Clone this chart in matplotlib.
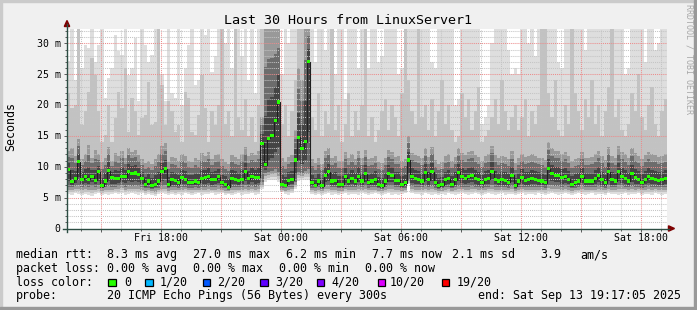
import numpy as np
import matplotlib
matplotlib.use("Agg")
import matplotlib.pyplot as plt
from matplotlib.patches import Rectangle, Polygon
from matplotlib.lines import Line2D

# ------------------------------------------------------------------ data
title = "Last 30 Hours from LinuxServer1"
start_hour = 13 + 17 / 60 + 5 / 3600          # Fri 13:17:05
span_hours = 30
step_hours = 1 / 6                             # 10 minute columns

rtt_median = [
    9.5, 7.6, 8.1, 10.8, 8.0, 8.4, 8.0, 8.5, 7.8, 9.2, 6.9, 7.7, 9.4, 8.2, 8.1,
    8.1, 8.5, 8.4, 9.2, 8.9, 9.0, 8.8, 8.1, 7.2, 7.7, 7.0, 7.2, 7.7, 9.2, 9.7,
    7.1, 7.9, 7.8, 7.4, 8.2, 8.0, 7.5, 7.4, 7.7, 7.5, 8.1, 8.2, 8.4, 7.9, 8.0,
    8.4, 7.4, 7.2, 6.7, 8.1, 8.0, 7.8, 8.0, 9.2, 8.1, 8.5, 8.2, 8.3, 13.8, 10.3,
    14.6, 15.0, 17.5, 20.5, 7.2, 7.0, 7.8, 7.9, 11.1, 14.8, 13.0, 14.1, 27.0, 7.4, 7.0,
    7.7, 6.9, 8.6, 9.2, 7.7, 7.8, 7.2, 7.2, 8.4, 7.7, 8.1, 7.7, 8.5, 7.7, 8.9,
    7.4, 7.7, 7.9, 7.1, 6.9, 7.7, 8.9, 8.6, 7.8, 7.8, 7.2, 7.4, 11.1, 8.4, 8.1,
    8.0, 7.7, 9.1, 7.9, 9.2, 7.5, 6.9, 7.1, 7.9, 8.1, 7.2, 7.9, 9.1, 8.4, 8.1,
    8.4, 8.6, 8.1, 7.9, 7.4, 8.0, 8.1, 9.3, 8.0, 7.7, 7.9, 7.8, 7.5, 8.6, 6.9,
    7.7, 8.2, 7.8, 7.9, 8.1, 8.0, 7.8, 7.7, 7.4, 9.7, 8.9, 8.6, 8.6, 8.2, 8.4,
    8.0, 7.2, 7.5, 7.7, 8.4, 7.7, 7.7, 7.7, 8.1, 8.6, 7.9, 7.4, 9.2, 7.9, 7.7,
    9.2, 8.4, 8.1, 7.7, 8.9, 8.2, 8.0, 7.5, 8.0, 8.4, 8.1, 8.0, 7.8, 7.9, 8.1,
]
rtt_max = [
    27.1, 33, 24, 33, 26.0, 29.8, 29.2, 33, 27, 29.8, 33, 21.1, 24.4, 26.0, 31.4,
    28.7, 28.1, 33, 24.9, 26, 30.8, 20.6, 33, 29.8, 27, 28.1, 33, 33, 25, 20.6,
    33, 22, 21.1, 33, 20.0, 26, 29.8, 33, 23.3, 24, 33, 31.4, 33, 25.4, 28,
    33, 33, 30, 33, 26, 33, 33, 28, 33, 24, 33, 22, 33, 33, 33,
    33, 33, 33, 33, 25, 33, 30, 33, 33, 33, 33, 33, 33, 33, 27,
    33, 33, 29, 33, 33, 25, 33, 33, 21, 33, 33, 33, 26, 33, 33,
    26, 33, 33, 27, 28, 33, 33, 33, 33, 25, 26, 33, 33, 33, 33,
    33, 33, 33, 33, 27, 26, 33, 33, 33, 33, 33, 20, 21, 33, 33,
    33, 33, 33, 33, 17, 18, 20, 30, 33, 33, 33, 33, 29, 25, 26,
    25, 33, 33, 30, 33, 28, 33, 33, 33, 33, 33, 33, 27, 26, 33,
    33, 33, 33, 33, 33, 29, 33, 33, 33, 33, 33, 33, 33, 33, 33,
    33, 33, 25, 26, 33, 33, 33, 33, 27, 33, 33, 29, 30, 33, 33,
]
rtt_p90 = [
    22, 19.5, 20.0, 33, 16.8, 19.0, 22.2, 27.6, 24.9, 19.0, 14.1, 15.2, 20.0, 14.1, 17.9,
    22.2, 19.5, 26.0, 15.7, 21.1, 19.0, 15.2, 17.9, 18.4, 23.8, 16.8, 17.3, 33, 23.3, 16.8,
    20.6, 19.0, 15.7, 16.8, 14.1, 22.2, 21.1, 15.7, 15.2, 18.4, 24.9, 19.5, 14.1, 19.0, 16.8,
    20, 33, 17, 19, 15, 33, 18, 16, 21, 15, 18, 14, 20, 33, 33,
    33, 33, 33, 33, 17, 20, 15, 19, 24, 33, 33, 33, 33, 18, 16,
    22, 15, 19, 17, 33, 16, 20, 14, 17, 22, 15, 19, 16, 20, 33,
    15, 18, 14, 16, 19, 21, 16, 20, 18, 15, 22, 33, 24, 19, 17,
    33, 18, 20, 16, 21, 15, 19, 24, 17, 20, 16, 14, 15, 22, 18,
    21, 16, 19, 23, 14, 15, 16, 18, 21, 17, 24, 19, 16, 18, 20,
    16, 18, 21, 15, 19, 17, 20, 33, 33, 22, 18, 24, 16, 15, 20,
    17, 33, 22, 19, 16, 21, 18, 24, 17, 20, 15, 19, 23, 33, 18,
    21, 16, 15, 17, 22, 19, 25, 18, 16, 20, 23, 17, 15, 19, 21,
]
rtt_p75 = [
    12.5, 13.0, 11.8, 14.5, 11.2, 12.0, 13.5, 11.5, 12.8, 12.0, 10.8, 11.5, 13.2, 11.0, 12.2,
    11.8, 12.6, 11.4, 13.0, 12.4, 12.8, 11.9, 11.2, 10.6, 11.0, 10.5, 11.3, 12.0, 13.4, 13.8,
    10.8, 11.6, 11.4, 10.9, 12.0, 11.7, 11.0, 10.8, 11.4, 11.1, 12.2, 11.8, 12.4, 11.3, 11.9,
    12.0, 11.2, 10.8, 10.4, 11.9, 11.6, 11.3, 12.1, 13.2, 11.8, 12.3, 11.9, 12.5, 18.0, 33,
    33, 33, 33, 33, 11.5, 10.8, 11.6, 11.9, 16.0, 26.0, 24.0, 33, 33, 11.2, 10.6,
    11.4, 10.5, 12.6, 13.0, 11.4, 11.8, 10.9, 11.0, 12.4, 11.5, 12.0, 11.3, 12.6, 11.4, 12.8,
    11.2, 11.5, 11.8, 10.8, 10.6, 11.5, 12.8, 12.4, 11.6, 11.7, 10.9, 11.2, 15.0, 12.2, 11.9,
    11.8, 11.4, 13.0, 11.6, 13.2, 11.1, 10.5, 10.8, 11.7, 12.0, 10.9, 11.6, 13.0, 12.3, 11.9,
    12.4, 12.6, 11.9, 11.6, 11.0, 11.8, 12.0, 13.4, 11.9, 11.4, 11.7, 11.6, 11.2, 12.5, 10.6,
    11.4, 12.1, 11.6, 11.7, 12.0, 11.8, 11.5, 11.4, 11.1, 14.0, 13.0, 12.6, 12.6, 12.1, 12.4,
    11.8, 10.9, 11.2, 11.4, 12.4, 11.5, 11.4, 11.6, 12.0, 12.6, 11.7, 11.1, 13.2, 11.7, 11.5,
    13.3, 12.4, 12.0, 11.5, 13.0, 12.2, 11.8, 11.2, 11.9, 12.4, 12.0, 11.9, 11.6, 11.7, 12.0,
]
rtt_p25 = [
    6.8, 6.7, 6.9, 7.0, 6.8, 6.9, 6.7, 6.9, 6.8, 7.0, 6.5, 6.7, 6.9, 6.8, 6.8,
    6.9, 7.0, 6.8, 7.0, 6.9, 7.0, 6.9, 6.7, 6.5, 6.6, 6.4, 6.5, 6.6, 6.9, 7.0,
    6.5, 6.7, 6.7, 6.6, 6.8, 6.8, 6.6, 6.6, 6.7, 6.6, 6.8, 6.8, 6.9, 6.7, 6.8,
    6.9, 6.6, 6.5, 6.3, 6.8, 6.8, 6.7, 6.8, 7.0, 6.8, 6.9, 6.8, 6.9, 7.6, 9.0,
    9.2, 9.4, 9.6, 9.2, 6.6, 6.5, 6.7, 6.8, 7.6, 9.2, 9.0, 9.4, 9.6, 6.6, 6.5,
    6.7, 6.4, 6.9, 7.0, 6.7, 6.7, 6.5, 6.5, 6.8, 6.7, 6.8, 6.7, 6.9, 6.7, 6.9,
    6.6, 6.7, 6.7, 6.5, 6.4, 6.7, 6.9, 6.9, 6.7, 6.7, 6.5, 6.6, 7.9, 6.9, 6.8,
    6.8, 6.7, 6.9, 6.7, 6.9, 6.6, 6.4, 6.5, 6.7, 6.8, 6.5, 6.7, 6.9, 6.8, 6.8,
    6.8, 6.9, 6.8, 6.7, 6.6, 6.8, 6.8, 7.0, 6.8, 6.7, 6.7, 6.7, 6.6, 6.9, 6.4,
    6.7, 6.8, 6.7, 6.7, 6.8, 6.8, 6.7, 6.7, 6.6, 7.1, 7.0, 6.9, 6.9, 6.8, 6.9,
    6.8, 6.5, 6.6, 6.7, 6.9, 6.7, 6.7, 6.7, 6.8, 6.9, 6.7, 6.6, 7.0, 6.7, 6.7,
    7.0, 6.9, 6.8, 6.7, 6.9, 6.8, 6.8, 6.6, 6.8, 6.9, 6.8, 6.8, 6.7, 6.7, 6.8,
]
rtt_min = [
    5.6, 5.5, 5.7, 5.6, 5.4, 5.6, 5.5, 5.3, 5.6, 5.7, 5.5, 5.6, 5.4, 5.6, 5.7,
    5.6, 5.8, 5.5, 5.6, 5.7, 5.6, 5.5, 5.7, 5.4, 5.6, 5.5, 5.2, 5.6, 5.7, 5.6,
    5.5, 5.6, 5.4, 5.6, 5.5, 5.7, 5.6, 5.5, 5.6, 5.7, 5.5, 5.6, 5.6, 5.7, 5.5,
    5.6, 5.7, 5.5, 5.6, 5.4, 5.6, 5.7, 5.5, 5.6, 5.6, 5.7, 5.5, 5.6, 6.4, 7.6,
    7.8, 7.8, 7.9, 7.6, 5.9, 5.6, 5.5, 5.7, 6.4, 7.7, 7.8, 7.9, 7.8, 5.6, 5.5,
    5.6, 5.4, 5.6, 5.7, 5.5, 5.6, 5.4, 5.6, 5.7, 5.5, 5.6, 5.6, 5.5, 5.7, 5.6,
    5.5, 5.6, 5.7, 5.6, 5.5, 5.6, 5.7, 5.5, 5.6, 5.5, 5.6, 5.7, 7.2, 5.8, 5.6,
    5.6, 5.5, 5.7, 5.6, 5.5, 5.6, 5.4, 5.6, 5.5, 5.7, 5.6, 5.5, 5.6, 5.7, 5.6,
    5.5, 5.6, 5.7, 5.6, 5.5, 5.6, 5.7, 5.6, 5.5, 5.6, 5.7, 5.5, 5.6, 5.6, 5.5,
    5.6, 5.7, 5.5, 5.6, 5.6, 5.5, 5.7, 5.6, 5.5, 5.6, 5.7, 5.6, 5.5, 5.6, 5.7,
    5.6, 5.5, 5.6, 5.7, 5.6, 5.5, 5.6, 5.7, 5.5, 5.6, 5.6, 5.5, 5.7, 5.6, 5.6,
    5.5, 5.6, 5.7, 5.5, 5.6, 5.6, 5.7, 5.5, 5.6, 5.6, 5.5, 5.7, 5.6, 5.5, 5.6,
]

x_tick_hours = [18, 24, 30, 36, 42]
x_tick_labels = ["Fri 18:00", "Sat 00:00", "Sat 06:00", "Sat 12:00", "Sat 18:00"]
y_tick_values = [0, 5, 10, 15, 20, 25, 30]
y_tick_labels = ["0", "5 m", "10 m", "15 m", "20 m", "25 m", "30 m"]
y_label = "Seconds"

stats_rtt = [("median rtt:", 16), ("8.3 ms avg", 107), ("27.0 ms max", 193),
             ("6.2 ms min", 286), ("7.7 ms now", 372), ("2.1 ms sd", 452),
             ("3.9", 540), ("am/s", 580)]
stats_loss = [("packet loss:", 16), ("0.00 % avg", 107), ("0.00 % max", 193),
              ("0.00 % min", 279), ("0.00 % now", 365)]
loss_labels = ["0", "1/20", "2/20", "3/20", "4/20", "10/20", "19/20"]
loss_colors = ["#26ff00", "#00b8ff", "#0059ff", "#5e00ff", "#7e00ff", "#dd00ff", "#ff0000"]
probe_text = "20 ICMP Echo Pings (56 Bytes) every 300s"
end_text = "end: Sat Sep 13 19:17:05 2025"
watermark = "RRDTOOL / TOBI OETIKER"

# ------------------------------------------------------------------ layout
W, H = 697, 310
PL, PR, PT, PB = 67, 667, 28.5, 228.5
PX_PER_MS = 6.17
YMAX = (PB - PT) / PX_PER_MS
MONO = "DejaVu Sans Mono"


def fx(x):
    return x / W


def fy(y):
    return 1 - y / H


fig = plt.figure(figsize=(W / 100, H / 100), dpi=100)
fig.patch.set_facecolor("#f0f0f0")

ax = fig.add_axes([fx(PL), fy(PB), (PR - PL) / W, (PB - PT) / H])
ax.set_facecolor("white")
ax.set_xlim(0, span_hours)
ax.set_ylim(0, YMAX)
for s in ax.spines.values():
    s.set_visible(False)

med = np.array(rtt_median)
vmax = np.array(rtt_max)
p90 = np.array(rtt_p90)
p75 = np.array(rtt_p75)
p25 = np.array(rtt_p25)
vmin = np.array(rtt_min)
xs = np.arange(len(med)) * step_hours

# smoke layers (outer -> inner)
low_a = vmin + 0.3 * (p25 - vmin)
low_b = vmin + 0.6 * (p25 - vmin)
up_c = med + 0.7 * (p75 - med)
low_d = p25 + 0.35 * (med - p25)
up_d = med + 0.35 * (p75 - med)
layers = [
    (vmin, vmax, "#dedede"),
    (low_a, p90, "#c2c2c2"),
    (low_b, p75, "#999999"),
    (p25, up_c, "#6c6c6c"),
    (low_d, up_d, "#444444"),
]
for lo, hi, c in layers:
    ax.bar(xs, hi - lo, bottom=lo, width=step_hours, align="edge",
           color=c, linewidth=0, antialiased=False, zorder=1)

# grid (drawn over the smoke)
dot = (0, (1, 1))
minor_c = "#c4c4c4"
major_c = "#ec8c8c"
for h in range(14, 44):
    xv = h - start_hour
    c = major_c if h % 3 == 0 else minor_c
    ax.axvline(xv, color=c, lw=0.75, ls=dot, zorder=3, snap=True)
for v in range(1, 33):
    c = major_c if v % 5 == 0 else minor_c
    ax.axhline(v, color=c, lw=0.75, ls=dot, zorder=3, snap=True)

# median line + loss-coloured marker band
ax.step(np.r_[xs, span_hours], np.r_[med, med[-1]], where="post",
        color="#202020", lw=0.8, zorder=4)
ax.bar(xs, 0.5, bottom=med - 0.25, width=step_hours, align="edge",
       color=loss_colors[0], linewidth=0, antialiased=False, zorder=5)

# ticks
ax.set_xticks([h - start_hour for h in range(15, 44, 3)])
ax.set_xticks([h - start_hour for h in range(14, 44)], minor=True)
ax.set_yticks(y_tick_values)
ax.set_yticks(range(0, 33), minor=True)
ax.tick_params(which="both", direction="out", color="#606060", width=0.72,
               labelbottom=False, labelleft=False)
ax.tick_params(which="major", length=2.2)
ax.tick_params(which="minor", length=1.4)

# axis lines and arrows
axis_c = "#2c4d43"
fig.add_artist(Line2D([fx(63), fx(669)], [fy(PB), fy(PB)], color=axis_c, lw=1.0))
fig.add_artist(Line2D([fx(PL), fx(PL)], [fy(232), fy(24)], color=axis_c, lw=1.0))
fig.add_artist(Polygon([(fx(64.3), fy(26.5)), (fx(69.7), fy(26.5)), (fx(67), fy(20.5))],
                       closed=True, color="#7f0000", transform=fig.transFigure))
fig.add_artist(Polygon([(fx(668.5), fy(225.8)), (fx(668.5), fy(231.2)), (fx(674.5), fy(PB))],
                       closed=True, color="#7f0000", transform=fig.transFigure))

# tick labels
for v, lab in zip(y_tick_values, y_tick_labels):
    fig.text(fx(60.5), fy(PB - v * PX_PER_MS + 3.3), lab, ha="right", va="baseline",
             fontsize=7.1, family=MONO)
for h, lab in zip(x_tick_hours, x_tick_labels):
    fig.text(fx(PL + (h - start_hour) * (PR - PL) / span_hours), fy(240.7), lab,
             ha="center", va="baseline", fontsize=7.1, family=MONO)

fig.text(fx(11), fy(126.5), y_label, rotation=90, ha="center", va="center",
         fontsize=8.4, family=MONO)
fig.text(fx(348.5), fy(24), title, ha="center", va="baseline", fontsize=9.6, family=MONO)
fig.text(fx(688.5), fy(4), watermark, rotation=-90, ha="center", va="top",
         fontsize=6, family=MONO, color="#a8a8a8")

# legend block
LF = 8.4
for s, x in stats_rtt:
    fig.text(fx(x), fy(258.3), s, ha="left", va="baseline", fontsize=LF, family=MONO)
for s, x in stats_loss:
    fig.text(fx(x), fy(271.9), s, ha="left", va="baseline", fontsize=LF, family=MONO)
fig.text(fx(16), fy(285.8), "loss color:", ha="left", va="baseline", fontsize=LF, family=MONO)
box_x = [108.3, 145.3, 202.7, 260, 316.7, 377.7, 441.7]
lab_x = [124, 160, 217.3, 275.7, 331.7, 390, 456.7]
for bx, lx, lab, c in zip(box_x, lab_x, loss_labels, loss_colors):
    fig.add_artist(Rectangle((fx(bx), fy(286.2)), 7.6 / W, 7.2 / H, facecolor=c,
                             edgecolor="black", lw=0.9, transform=fig.transFigure))
    fig.text(fx(lx), fy(285.8), lab, ha="left", va="baseline", fontsize=LF, family=MONO)
fig.text(fx(16), fy(299.4), "probe:", ha="left", va="baseline", fontsize=LF, family=MONO)
fig.text(fx(107), fy(299.4), probe_text, ha="left", va="baseline", fontsize=LF, family=MONO)
fig.text(fx(478.3), fy(299.4), end_text, ha="left", va="baseline", fontsize=LF, family=MONO)

# frame
fig.add_artist(Rectangle((0, 0), 2 / W, 1, color="#cbcbcb", transform=fig.transFigure))
fig.add_artist(Rectangle((0, 1 - 2 / H), 1, 2 / H, color="#cbcbcb", transform=fig.transFigure))
fig.add_artist(Rectangle((1 - 3 / W, 0), 3 / W, 1, color="#999999", transform=fig.transFigure))
fig.add_artist(Rectangle((0, 0), 1, 3 / H, color="#999999", transform=fig.transFigure))

fig.savefig("out.png", dpi=100, facecolor=fig.get_facecolor())
